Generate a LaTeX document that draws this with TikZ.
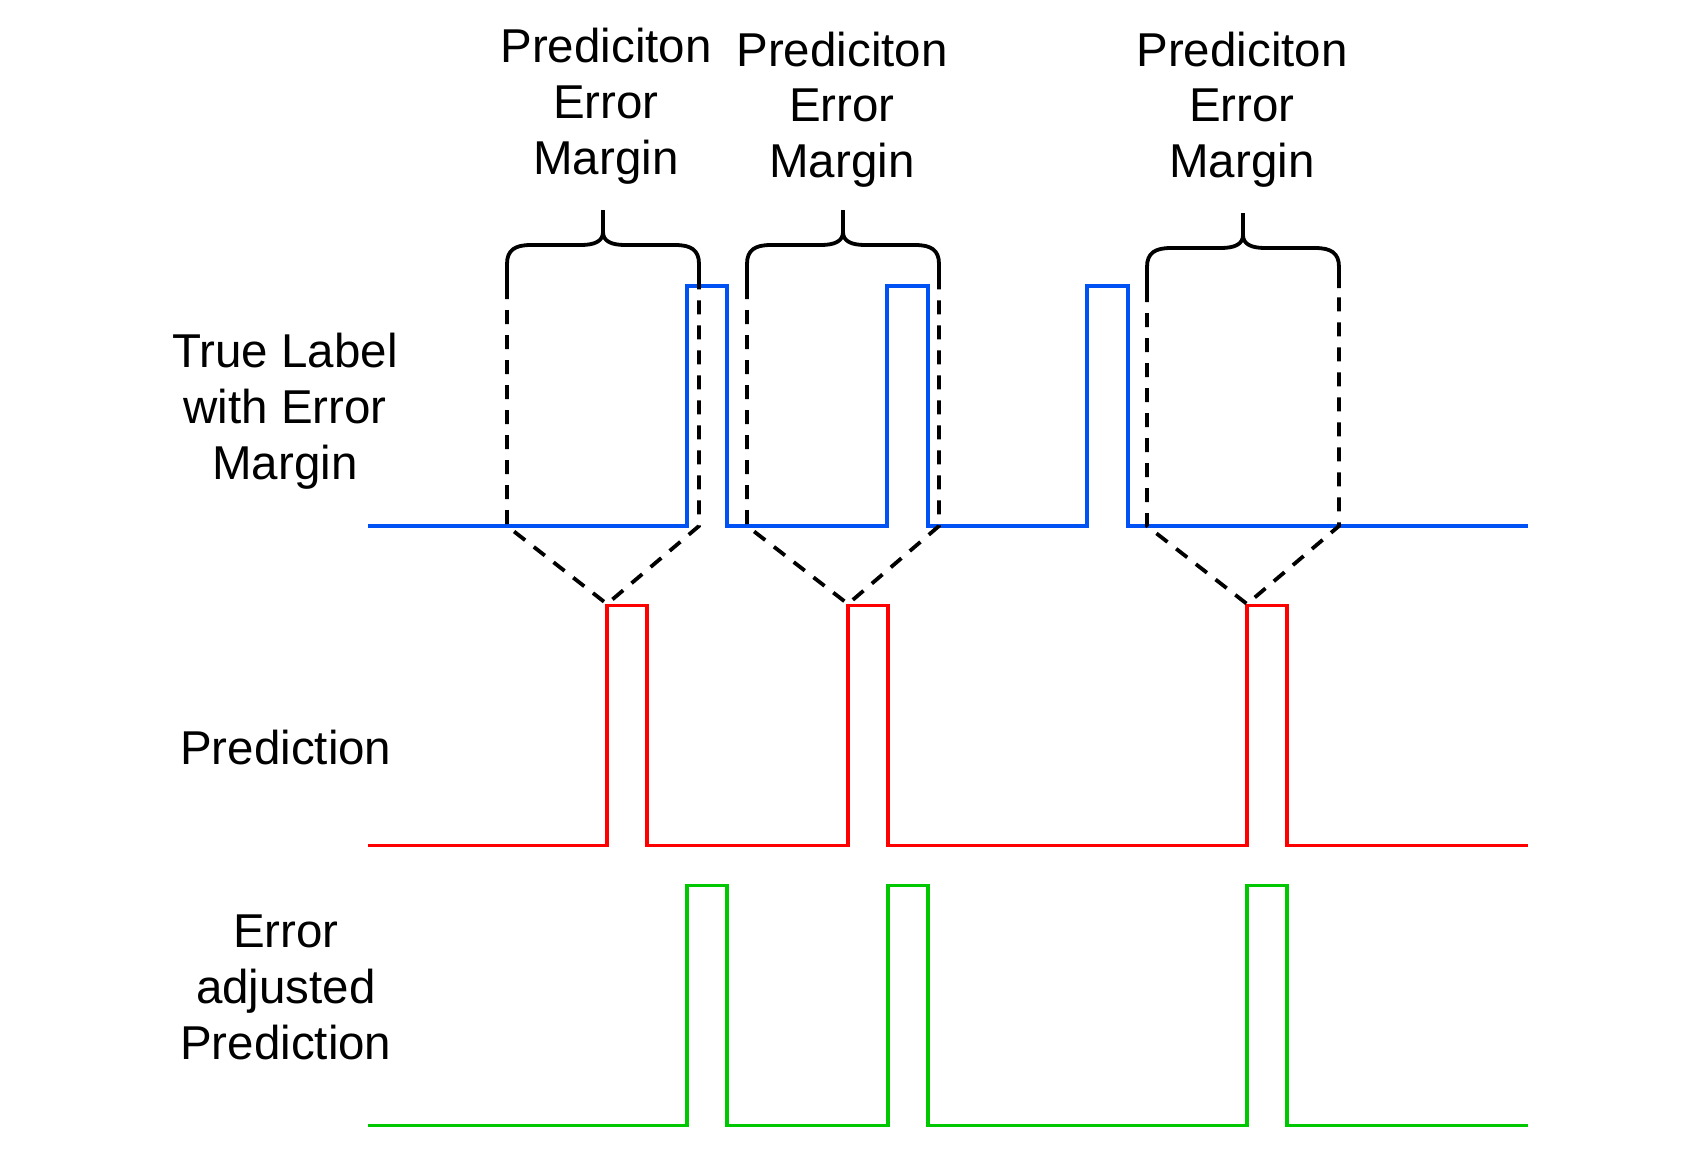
\documentclass[tikz,border=0pt]{standalone}
\usepackage{fontspec}
\setmainfont{Liberation Sans}
\begin{document}
\begin{tikzpicture}[x=0.5pt,y=-0.5pt,
  sig/.style={line width=1.7pt, line join=miter},
  bluesig/.style={sig, draw={rgb,255:red,0;green,82;blue,245}},
  redsig/.style={sig, draw={rgb,255:red,255;green,0;blue,0}},
  greensig/.style={sig, draw={rgb,255:red,0;green,200;blue,0}},
  bracestyle/.style={line width=1.9pt, draw=black, line join=round},
  margindash/.style={line width=1.9pt, draw=black, dash pattern=on 7pt off 5.5pt},
  lbl/.style={font=\fontsize{23.75}{27.85}\selectfont, align=center, inner sep=0pt, anchor=base}
]
\path[use as bounding box, fill=white] (0,0) rectangle (1693,1151);

% labels (anchor = baseline of the last line)
\node[lbl] (t1) at (606,174) {Prediciton\\Error\\Margin};
\node[lbl] (t2) at (842,177.5) {Prediciton\\Error\\Margin};
\node[lbl] (t3) at (1242,177.5) {Prediciton\\Error\\Margin};
\node[lbl] (lt) at (285,479) {True Label\\with Error\\Margin};
\node[lbl] (lp) at (285.8,764) {Prediction};
\node[lbl] (la) at (285.8,1059) {Error\\adjusted\\Prediction};

% signals
\draw[bluesig] (368,526) -- (687,526) -- (687,286) -- (727,286) -- (727,526)
  -- (887,526) -- (887,286) -- (928,286) -- (928,526)
  -- (1087,526) -- (1087,286) -- (1128,286) -- (1128,526) -- (1528,526);
\draw[redsig] (368,845.5) -- (607,845.5) -- (607,605.7) -- (647,605.7) -- (647,845.5)
  -- (848,845.5) -- (848,605.7) -- (888,605.7) -- (888,845.5)
  -- (1247,845.5) -- (1247,605.7) -- (1287,605.7) -- (1287,845.5) -- (1528,845.5);
\draw[greensig] (368,1125.5) -- (687,1125.5) -- (687,885.5) -- (727,885.5) -- (727,1125.5)
  -- (888,1125.5) -- (888,885.5) -- (928,885.5) -- (928,1125.5)
  -- (1247,1125.5) -- (1247,885.5) -- (1287,885.5) -- (1287,1125.5) -- (1528,1125.5);

% braces with margins
\foreach \l/\r/\t/\ap/\dy/\n in {507/699/603/607/0/a, 747/939/843/848/0/b, 1147/1339/1243/1247/3/c}{
  \coordinate (\n L) at (\l,285+\dy);
  \coordinate (\n R) at (\r,285+\dy);
  \coordinate (\n T) at (\t,210+\dy);
  \coordinate (\n BL) at (\l,526);
  \coordinate (\n BR) at (\r,526);
  \coordinate (\n A) at (\ap,604);
  \draw[bracestyle] (\n L) -- (\l,264+\dy) .. controls (\l,250+\dy) and (\l+8,245+\dy) .. (\l+24,245+\dy)
     -- (\t-22,245+\dy) .. controls (\t-8,245+\dy) and (\t,241+\dy) .. (\t,232+\dy) -- (\n T);
  \draw[bracestyle] (\n R) -- (\r,264+\dy) .. controls (\r,250+\dy) and (\r-8,245+\dy) .. (\r-24,245+\dy)
     -- (\t+22,245+\dy) .. controls (\t+8,245+\dy) and (\t,241+\dy) .. (\t,232+\dy);
  \draw[margindash] (\n L) -- (\n BL) -- (\n A) -- (\n BR) -- (\n R);
}
\end{tikzpicture}
\end{document}
